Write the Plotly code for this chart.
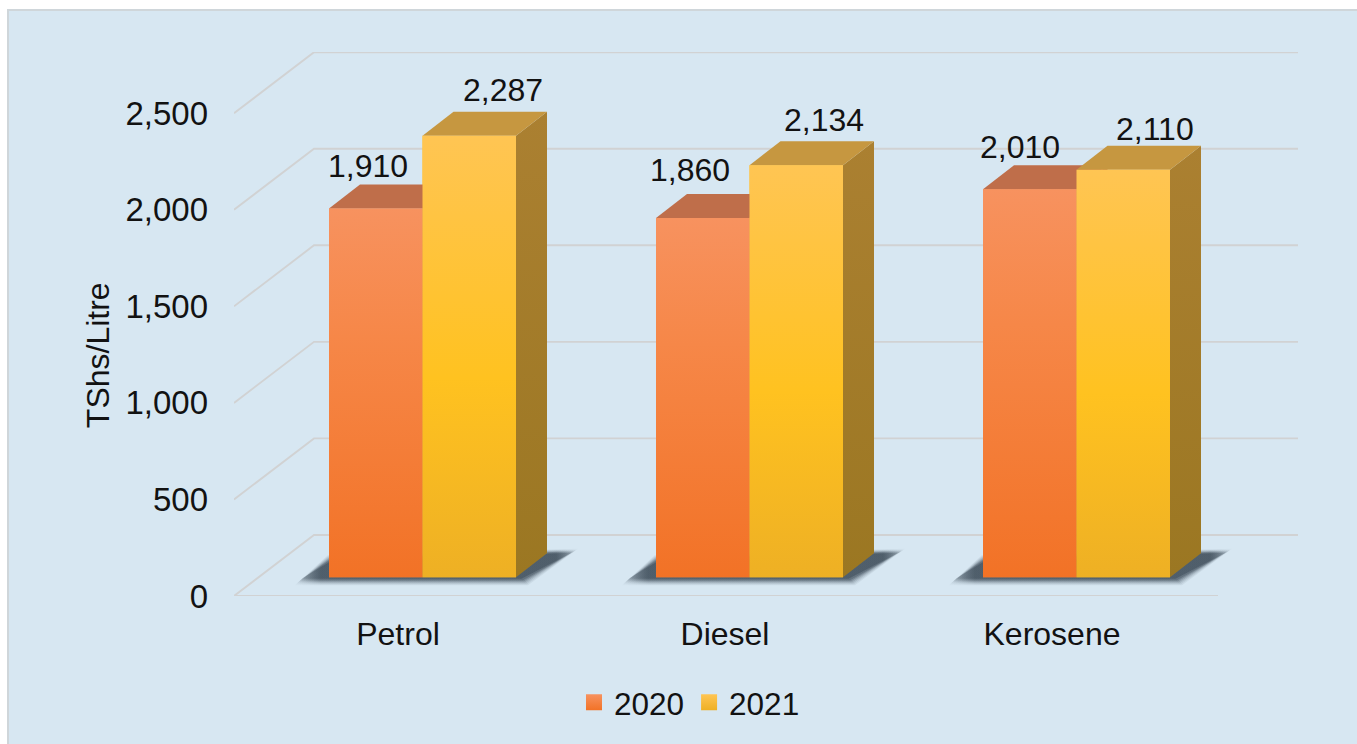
import plotly.graph_objects as go

categories = ["Petrol", "Diesel", "Kerosene"]
years = ["2020", "2021"]
values_2020 = [1910, 1860, 2010]
values_2021 = [2287, 2134, 2110]
y_ticks = [0, 500, 1000, 1500, 2000, 2500]
series = [values_2020, values_2021]

# --- styling / layout constants (pixels of the reference picture) ---
W, H = 1357, 744
PLOT_L, PLOT_R, PLOT_T, PLOT_B = 234, 1298, 52, 595.7
PX_PER_CAT = 327.0
PX_PER_VAL = 0.193
CAT0_PX = 398.0
BG = "#d7e7f2"
GRID = "#d1d2d3"
TXT = "#121212"
FONT = "Liberation Sans"
FS = 32

def dx(px):
    return px / PX_PER_CAT

def dy(px):
    return px / PX_PER_VAL

x_lo = (PLOT_L - CAT0_PX) / PX_PER_CAT
x_hi = (PLOT_R - CAT0_PX) / PX_PER_CAT
y_hi = (PLOT_B - PLOT_T) / PX_PER_VAL

WALL_DX, WALL_DY = dx(80), dy(61)      # floor / wall depth
FRONT_R = x_lo + dx(984)
BAR_DX, BASE = dx(24.5), dy(18.7)      # bars stand this far in on the floor
BAR_W = dx(93.5)
SIDE_DX, SIDE_DY = dx(31), dy(24)

FACE = [
    dict(front=[[0, "#f7925f"], [0.35, "#f68748"], [1, "#f27226"]], base="#f58440",
         top="#bf6e4a", side=[[0, "#bf6e4a"], [1, "#b06030"]]),
    dict(front=[[0, "#ffc553"], [0.55, "#ffc220"], [1, "#eeb024"]], base="#fdbf2d",
         top="#c69740", side=[[0, "#ab8031"], [1, "#9b7722"]]),
]
LABEL_SHIFT = [[(-8, 42), (-13, 48), (-10, 42)], [(34, 46), (28, 45), (32, 41)]]

fig = go.Figure()

# walls and floor: gridlines run from the front edge to the back wall
gx, gy = [], []
for t in y_ticks:
    gx += [x_lo, x_lo + WALL_DX, x_hi, None]
    gy += [t, t + WALL_DY, t + WALL_DY, None]
gx += [x_lo, FRONT_R]
gy += [0, 0]
fig.add_trace(go.Scatter(x=gx, y=gy, mode="lines", line=dict(color=GRID, width=1.9),
                         showlegend=False, hoverinfo="skip", zorder=0))

# floor shadows: soft layers that fade out towards both tips
for i, _ in enumerate(categories):
    c = i + BAR_DX
    L, R = c - BAR_W, c + BAR_W
    for e, a in [(4, 0.08), (3, 0.10), (2, 0.14), (1, 0.2), (0, 0.28), (-1, 0.36), (-2.5, 0.48)]:
        sx = [L - dx(30 + e), L - dx(e * 0.3), R + dx(58 + e), R + dx(8 + e)]
        sy = [BASE - dy(4 + e), BASE + dy(18 + e), BASE + dy(26 + e * 0.6), BASE - dy(4 + e)]
        lo, hi = min(sx), max(sx)
        span = hi - lo
        p1 = (L - dx(8) - lo) / span
        p2 = (R + dx(40) - lo) / span
        rgb = "58,73,86"
        fig.add_trace(go.Scatter(
            x=sx + sx[:1], y=sy + sy[:1], fill="toself", mode="lines", line=dict(width=0),
            fillgradient=dict(type="horizontal", start=lo, stop=hi,
                              colorscale=[[0, f"rgba({rgb},{a * 0.25})"], [p1, f"rgba({rgb},{a})"],
                                          [p2, f"rgba({rgb},{a})"], [1, f"rgba({rgb},{a * 0.25})"]]),
            showlegend=False, hoverinfo="skip", zorder=1))

# real bars
for s, vals in enumerate(series):
    fig.add_trace(go.Bar(x=[i + BAR_DX for i in range(len(categories))], y=vals, base=BASE,
                         name=years[s], marker=dict(color=FACE[s]["base"], line=dict(width=0)),
                         showlegend=False, zorder=2))

# 3-D faces derived from the same values
for s, vals in enumerate(series):
    for i, v in enumerate(vals):
        c = i + BAR_DX
        left = c - BAR_W if s == 0 else c
        right = c if s == 0 else c + BAR_W
        top = BASE + v
        fig.add_trace(go.Scatter(
            x=[right, right + SIDE_DX, right + SIDE_DX, right, right],
            y=[BASE, BASE + SIDE_DY, top + SIDE_DY, top, BASE],
            fill="toself", mode="lines", line=dict(width=0),
            fillgradient=dict(type="vertical",
                              colorscale=[[0, FACE[s]["side"][1][1]], [1, FACE[s]["side"][0][1]]],
                              start=BASE, stop=top + SIDE_DY),
            showlegend=False, hoverinfo="skip", zorder=3))
        fig.add_trace(go.Scatter(
            x=[left, left + SIDE_DX, right + SIDE_DX, right, left],
            y=[top, top + SIDE_DY, top + SIDE_DY, top, top],
            fill="toself", mode="lines", line=dict(width=0), fillcolor=FACE[s]["top"],
            showlegend=False, hoverinfo="skip", zorder=3))
        fig.add_trace(go.Scatter(
            x=[left, right, right, left, left], y=[BASE, BASE, top, top, BASE],
            fill="toself", mode="lines", line=dict(width=0),
            fillgradient=dict(type="vertical",
                              colorscale=[[1 - p, col] for p, col in FACE[s]["front"]][::-1],
                              start=BASE, stop=top),
            showlegend=False, hoverinfo="skip", zorder=3))

# data labels
annotations = []
for s, vals in enumerate(series):
    for i, v in enumerate(vals):
        c = i + BAR_DX + (BAR_W / 2) * (-1 if s == 0 else 1)
        sx, sy = LABEL_SHIFT[s][i]
        annotations.append(dict(x=c, y=BASE + v, xref="x", yref="y", text=f"{v:,}", showarrow=False,
                                xanchor="center", yanchor="middle", xshift=sx, yshift=sy,
                                font=dict(family=FONT, size=FS, color=TXT)))
# axis title
annotations.append(dict(xref="paper", yref="paper", x=(98 - PLOT_L) / (PLOT_R - PLOT_L),
                        y=(PLOT_B - 355) / (PLOT_B - PLOT_T), text="TShs/Litre", textangle=-90,
                        showarrow=False, xanchor="center", yanchor="middle",
                        font=dict(family=FONT, size=FS, color=TXT)))

# legend entries
for s, y in enumerate(years):
    fig.add_trace(go.Scatter(x=[None], y=[None], mode="markers", name=y,
                             marker=dict(symbol="square", size=16, color=FACE[s]["front"][0][1],
                                         gradient=dict(type="vertical", color=FACE[s]["front"][-1][1]),
                                         line=dict(width=0))))

def px_x(px):
    return (px - PLOT_L) / (PLOT_R - PLOT_L)

def px_y(px):
    return (PLOT_B - px) / (PLOT_B - PLOT_T)

fig.update_layout(
    width=W, height=H, autosize=False,
    margin=dict(l=PLOT_L, r=W - PLOT_R, t=PLOT_T, b=H - PLOT_B, autoexpand=False),
    paper_bgcolor="white", plot_bgcolor="rgba(0,0,0,0)",
    barmode="group", bargap=1 - 2 * BAR_W, bargroupgap=0,
    font=dict(family=FONT, size=FS, color=TXT),
    annotations=annotations,
    shapes=[dict(type="rect", xref="paper", yref="paper", layer="below",
                 x0=px_x(8), x1=px_x(W + 5), y0=px_y(H + 5), y1=px_y(10),
                 fillcolor=BG, line=dict(color="#cfd6da", width=2))],
    xaxis=dict(range=[x_lo, x_hi], tickmode="array", tickvals=list(range(len(categories))),
               ticktext=categories, showgrid=False, zeroline=False, showline=False, ticks="",
               ticklabelstandoff=16, tickfont=dict(family=FONT, size=FS, color=TXT)),
    yaxis=dict(range=[0, y_hi], tickmode="array", tickvals=y_ticks, tickformat=",d",
               showgrid=False, zeroline=False, showline=False, ticks="",
               ticklabelstandoff=25, tickfont=dict(family=FONT, size=33, color=TXT)),
    legend=dict(orientation="h", x=px_x(574), xanchor="left", y=px_y(702), yanchor="middle",
                font=dict(family=FONT, size=31.5, color=TXT), bgcolor="rgba(0,0,0,0)",
                itemwidth=30),
)

fig.write_html("out.html", config=dict(displayModeBar=False),
               post_script="document.body.style.margin='0';document.body.style.overflow='hidden';")
